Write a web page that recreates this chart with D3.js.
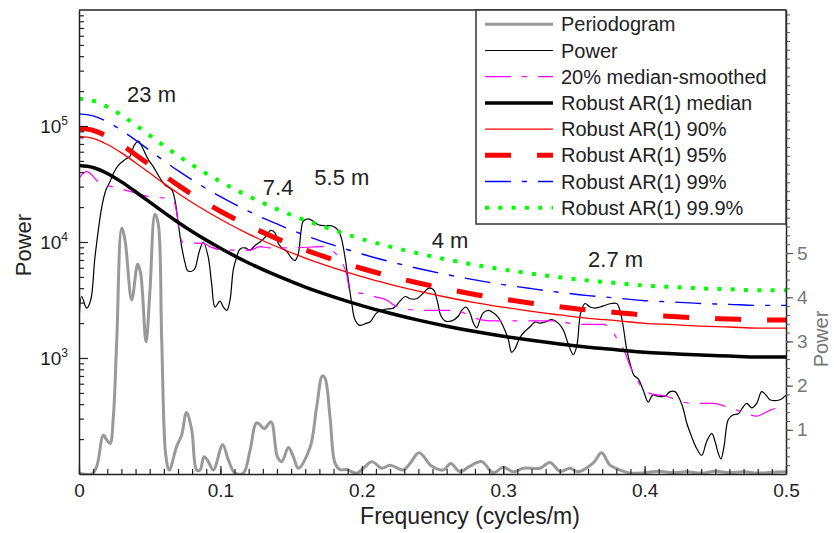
<!DOCTYPE html>
<html>
<head>
<meta charset="utf-8">
<script src="https://cdn.jsdelivr.net/npm/d3@7/dist/d3.min.js"></script>
<style>
  body { margin: 0; background: #fff; }
  svg { display: block; }
  text { font-family: "Liberation Sans", Arial, Helvetica, sans-serif; }
</style>
</head>
<body>
<svg id="chart" width="834" height="533"></svg>
<script>
// ---- data ---------------------------------------------------------------
// Robust AR(1) red-noise fits, sampled in frequency (cycles/m)
const arFreq = [0, 0.01, 0.02, 0.03, 0.04, 0.05, 0.06, 0.07, 0.08, 0.10, 0.12, 0.14, 0.16,
  0.18, 0.20, 0.22, 0.24, 0.26, 0.28, 0.30, 0.32, 0.34, 0.36, 0.38, 0.40, 0.42, 0.44, 0.46, 0.48, 0.50];
const arMedian = [45700, 43900, 39000, 33000, 27100, 22100, 18000, 14800, 12300, 8830, 6590, 5120, 4090,
  3370, 2830, 2430, 2120, 1880, 1690, 1540, 1420, 1320, 1240, 1180, 1120, 1090, 1060, 1040, 1020, 1020];
const ar90 = [81300, 78100, 69300, 58700, 48200, 39300, 32000, 26300, 21900, 15700, 11700, 9100, 7270,
  5990, 5030, 4320, 3770, 3340, 3000, 2740, 2520, 2350, 2200, 2100, 1990, 1940, 1880, 1850, 1810, 1810];
const ar95 = [95500, 91700, 81500, 68900, 56600, 46200, 37600, 30900, 25700, 18400, 13800, 10700, 8540,
  7040, 5910, 5080, 4430, 3930, 3530, 3220, 2970, 2760, 2590, 2470, 2340, 2280, 2210, 2170, 2130, 2130];
const ar99 = [127300, 122300, 108700, 91900, 75500, 61600, 50100, 41200, 34300, 24600, 18400, 14300, 11400,
  9390, 7880, 6770, 5910, 5240, 4710, 4290, 3960, 3680, 3450, 3290, 3120, 3040, 2950, 2900, 2840, 2840];
const ar999 = [171700, 165000, 146600, 124000, 101800, 83100, 67600, 55600, 46200, 33200, 24800, 19200, 15400,
  12700, 10600, 9130, 7970, 7070, 6350, 5790, 5340, 4960, 4660, 4430, 4210, 4100, 3980, 3910, 3830, 3830];

// Multitaper power spectrum
const powerFreq = [0, 0.0019, 0.0054, 0.0083, 0.0113, 0.0161, 0.0191, 0.0219, 0.0243, 0.0278, 0.0325,
  0.0361, 0.0389, 0.0419, 0.0450, 0.0490, 0.0525, 0.0568, 0.0608, 0.0656, 0.0679, 0.0702, 0.0726,
  0.0750, 0.0771, 0.0813, 0.0851, 0.0879, 0.0914, 0.0938, 0.0962, 0.0997, 0.1021, 0.1045, 0.1068,
  0.1091, 0.1115, 0.1139, 0.1174, 0.1209, 0.1245, 0.1280, 0.1322, 0.1356, 0.1386, 0.1409, 0.1433,
  0.1469, 0.1504, 0.1528, 0.1551, 0.1570, 0.1586, 0.1622, 0.1657, 0.1692, 0.1740, 0.1787, 0.1834,
  0.1858, 0.1881, 0.1905, 0.1929, 0.1952, 0.1987, 0.2035, 0.2058, 0.2105, 0.2164, 0.2223, 0.2270,
  0.2306, 0.2341, 0.2388, 0.2435, 0.2470, 0.2506, 0.2534, 0.2558, 0.2588, 0.2636, 0.2682, 0.2706,
  0.2737, 0.2765, 0.2789, 0.2813, 0.2836, 0.2859, 0.2895, 0.2930, 0.2965, 0.3001, 0.3036, 0.3060,
  0.3083, 0.3119, 0.3154, 0.3190, 0.3225, 0.3260, 0.3296, 0.3343, 0.3390, 0.3425, 0.3460, 0.3496,
  0.3520, 0.3548, 0.3579, 0.3614, 0.3649, 0.3684, 0.3732, 0.3767, 0.3803, 0.3826, 0.3849, 0.3873,
  0.3902, 0.3925, 0.3955, 0.3991, 0.4026, 0.4057, 0.4097, 0.4144, 0.4180, 0.4215, 0.4238, 0.4269,
  0.4298, 0.4333, 0.4368, 0.4404, 0.4439, 0.4475, 0.4498, 0.4521, 0.4540, 0.4562, 0.4592, 0.4627,
  0.4663, 0.4698, 0.4722, 0.4757, 0.4793, 0.4828, 0.4859, 0.4887, 0.4958, 0.5000];
const powerValues = [1860, 3390, 2690, 3160, 7410, 20000, 28200, 33100, 38900, 45700, 51300,
  55000, 67600, 74100, 64600, 51300, 44700, 36300, 30900, 28200, 22900, 14500, 9120,
  6610, 5620, 5750, 8320, 10000, 7410, 4370, 2750, 3090, 2750, 2570, 3160,
  5750, 7410, 8710, 8910, 8510, 9330, 10000, 11200, 12600, 12000, 9770, 8910,
  8320, 7240, 6920, 7940, 12300, 15100, 15800, 15100, 14100, 13800, 13800, 12600,
  10500, 7410, 4680, 2950, 2140, 1910, 2000, 2040, 2450, 2630, 2690, 3090,
  3390, 3240, 3240, 3630, 3980, 3890, 3090, 2340, 2090, 2090, 2290, 2570,
  2750, 2450, 2000, 1820, 2140, 2450, 2570, 2450, 2240, 1860, 1450, 1120,
  1200, 1510, 1700, 1860, 2040, 2000, 2040, 2140, 2000, 1740, 1320, 1070,
  1260, 2450, 2950, 2750, 2690, 2750, 2880, 2950, 2950, 2570, 1860, 1200,
  851, 708, 661, 525, 417, 479, 468, 468, 513, 513, 468, 380,
  275, 209, 166, 145, 191, 224, 191, 151, 135, 174, 295, 324,
  331, 380, 407, 372, 407, 513, 479, 437, 437, 479];

// 20% running-median smoothed spectrum
const smoothFreq = [0, 0.0054, 0.0090, 0.0125, 0.0196, 0.0290, 0.0408, 0.0502, 0.0596, 0.0667,
  0.0691, 0.0714, 0.0743, 0.0877, 0.0926, 0.1018, 0.1139, 0.1210, 0.1280, 0.1351, 0.1492, 0.1726,
  0.1798, 0.1846, 0.1893, 0.1917, 0.1987, 0.2081, 0.2176, 0.2223, 0.2318, 0.2433, 0.2624, 0.2694,
  0.2789, 0.2836, 0.2928, 0.3352, 0.3543, 0.3706, 0.3755, 0.3803, 0.3861, 0.3897, 0.3932, 0.3979,
  0.4050, 0.4156, 0.4215, 0.4342, 0.4484, 0.4581, 0.4675, 0.4793, 0.4839, 0.4887, 0.4946];
const smoothValues = [35500, 40700, 38000, 33900, 30900, 28800, 26300, 24500, 24000, 22900,
  17800, 11200, 9770, 9770, 9120, 8510, 8510, 8510, 9120, 8910, 8910, 9120,
  8320, 7080, 5250, 3720, 3630, 3390, 3160, 2880, 2630, 2570, 2570, 2510,
  2240, 2140, 2090, 2090, 1950, 1950, 1820, 1480, 1120, 851, 708, 562,
  490, 468, 437, 407, 407, 380, 347, 316, 331, 355, 372];

// Periodogram (right axis, linear units)
const periodFreq = [0, 0.009, 0.0125, 0.0172, 0.0196, 0.022, 0.0243, 0.0267, 0.0302, 0.0325, 0.0373,
  0.0415, 0.0436, 0.0474, 0.0502, 0.0537, 0.056, 0.0585, 0.0615, 0.0639, 0.069, 0.0726, 0.076, 0.0797,
  0.0832, 0.0856, 0.0884, 0.0908, 0.095, 0.1016, 0.1056, 0.1103, 0.1162, 0.121, 0.1257, 0.1311, 0.1358,
  0.1403, 0.1434, 0.1481, 0.1516, 0.1551, 0.1634, 0.1681, 0.1721, 0.174, 0.1775, 0.1811, 0.1846, 0.1893,
  0.1964, 0.2011, 0.207, 0.2141, 0.22, 0.2294, 0.2341, 0.2405, 0.2494, 0.2576, 0.2629, 0.2694, 0.2765,
  0.2848, 0.293, 0.3001, 0.3072, 0.3142, 0.326, 0.3331, 0.3402, 0.3472, 0.3531, 0.3637, 0.3696, 0.3755,
  0.3826, 0.3897, 0.40, 0.41, 0.42, 0.43, 0.44, 0.45, 0.46, 0.47, 0.48, 0.49, 0.50];
const periodValues = [0.02, 0, 0.17, 0.88, 0.77, 0.69, 1.3, 3.03, 5.56, 5.3, 3.94,
  4.75, 4.54, 2.99, 4.16, 5.88, 5.67, 3.03, 0.39, 0.09, 0.62, 0.88, 1.39, 1.0,
  0.09, 0.09, 0.39, 0.32, 0.09, 0.66, 0.32, 0.02, 0.02, 0.54, 1.16, 1.03, 1.18,
  0.39, 0.28, 0.6, 0.39, 0.13, 0.6, 1.52, 2.22, 2.17, 1.3, 0.24, 0.1, 0.1,
  0.02, 0.13, 0.28, 0.13, 0.2, 0.09, 0.24, 0.48, 0.18, 0.09, 0.24, 0.05, 0.18,
  0.28, 0.03, 0.15, 0.05, 0.13, 0.13, 0.26, 0.06, 0.13, 0.05, 0.25, 0.48, 0.2,
  0.09, 0.02, 0.03, 0.06, 0.03, 0.05, 0.02, 0.06, 0.03, 0.05, 0.02, 0.04, 0.05];

// Axis ticks and labels
const xTickValues = [0, 0.1, 0.2, 0.3, 0.4, 0.5];
const yTickExponents = [3, 4, 5];
const rightTickValues = [1, 2, 3, 4, 5];

// Period annotations (text, frequency, power at baseline)
const peakText = ["23 m", "7.4", "5.5 m", "4 m", "2.7 m"];
const peakFreq = [0.034, 0.130, 0.1664, 0.2494, 0.360];
const peakPower = [161000, 25400, 31000, 8870, 6080];

const legendLabels = ["Periodogram", "Power", "20% median-smoothed", "Robust AR(1) median",
  "Robust AR(1) 90%", "Robust AR(1) 95%", "Robust AR(1) 99%", "Robust AR(1) 99.9%"];

// ---- layout -------------------------------------------------------------
const W = 834, H = 533;
const plot = { left: 79, right: 786, top: 10, bottom: 474 };

const svg = d3.select("#chart");
svg.append("rect").attr("width", W).attr("height", H).attr("fill", "#fff");

const x = d3.scaleLinear().domain([0, 0.5]).range([plot.left, plot.right]);
const y = d3.scaleLog().domain([100, 1e6]).range([plot.bottom, plot.top]);
const yR = d3.scaleLinear().domain([0, 10.5]).range([plot.bottom, plot.top]);

svg.append("defs").append("clipPath").attr("id", "plotClip")
  .append("rect")
  .attr("x", plot.left).attr("y", plot.top)
  .attr("width", plot.right - plot.left).attr("height", plot.bottom - plot.top);

const g = svg.append("g").attr("clip-path", "url(#plotClip)");

const zip = (fs, vs) => fs.map((f, i) => [f, vs[i]]);

const smoothLogLine = d3.line().x(d => x(d[0])).y(d => y(d[1])).curve(d3.curveMonotoneX);
const wiggleLine = d3.line().x(d => x(d[0])).y(d => y(d[1])).curve(d3.curveCatmullRom.alpha(0.5));
const rightLine = d3.line().x(d => x(d[0])).y(d => yR(d[1])).curve(d3.curveCatmullRom.alpha(0.5));

// series styling, in legend order
const styles = [
  { stroke: "#999999", width: 3, dash: null },
  { stroke: "#000000", width: 1.2, dash: null },
  { stroke: "#ff00ff", width: 1.2, dash: "26,11,5,11" },
  { stroke: "#000000", width: 3.5, dash: null },
  { stroke: "#ff0000", width: 1.3, dash: null },
  { stroke: "#ff0000", width: 5, dash: "26,26" },
  { stroke: "#0000ff", width: 1.4, dash: "26,11,5,11" },
  { stroke: "#00ff00", width: 4, dash: "4,9.3" }
];

const seriesPaths = [
  rightLine(zip(periodFreq, periodValues)),
  wiggleLine(zip(powerFreq, powerValues)),
  smoothLogLine(zip(smoothFreq, smoothValues)),
  smoothLogLine(zip(arFreq, arMedian)),
  smoothLogLine(zip(arFreq, ar90)),
  smoothLogLine(zip(arFreq, ar95)),
  smoothLogLine(zip(arFreq, ar99)),
  smoothLogLine(zip(arFreq, ar999))
];

seriesPaths.forEach((p, i) => {
  const s = styles[i];
  g.append("path")
    .attr("d", p)
    .attr("fill", "none")
    .attr("stroke", s.stroke)
    .attr("stroke-width", s.width)
    .attr("stroke-linejoin", "round")
    .attr("stroke-dasharray", s.dash);
});

// ---- annotations --------------------------------------------------------
svg.append("g").selectAll("text").data(peakText).join("text")
  .attr("x", (d, i) => x(peakFreq[i]))
  .attr("y", (d, i) => y(peakPower[i]))
  .attr("font-size", 22)
  .attr("fill", "#222")
  .text(d => d);

// ---- axes ---------------------------------------------------------------
const axisColor = "#222";

// bottom: minor ticks every 0.01, labelled majors every 0.1
const xMinor = d3.range(0, 51).map(i => i / 100);
svg.append("g").attr("transform", `translate(0,${plot.bottom})`)
  .call(d3.axisBottom(x).tickValues(xMinor).tickSize(-5).tickFormat("").tickSizeOuter(0))
  .call(a => a.select(".domain").attr("stroke", axisColor).attr("stroke-width", 1.5))
  .call(a => a.selectAll(".tick line").attr("stroke", axisColor).attr("stroke-width", 1.2));
svg.append("g").attr("transform", `translate(0,${plot.bottom})`)
  .call(d3.axisBottom(x).tickValues(xTickValues).tickSize(-8).tickPadding(10)
    .tickFormat(d => d === 0 ? "0" : d3.format(".1f")(d)).tickSizeOuter(0))
  .call(a => a.select(".domain").remove())
  .call(a => a.selectAll(".tick line").attr("stroke", axisColor).attr("stroke-width", 1.2))
  .call(a => a.selectAll(".tick text").attr("font-size", 19).attr("fill", axisColor)
    .attr("font-family", "Liberation Sans, Arial, sans-serif"));

// left: log minor ticks, labelled decades
const yMinor = [];
[2, 3, 4, 5].forEach(e => { for (let k = 2; k <= 9; k++) yMinor.push(k * Math.pow(10, e)); });
svg.append("g").attr("transform", `translate(${plot.left},0)`)
  .call(d3.axisLeft(y).tickValues(yMinor).tickSize(-5).tickFormat("").tickSizeOuter(0))
  .call(a => a.select(".domain").attr("stroke", axisColor).attr("stroke-width", 1.5))
  .call(a => a.selectAll(".tick line").attr("stroke", axisColor).attr("stroke-width", 1.2));
const yMajorAxis = svg.append("g").attr("transform", `translate(${plot.left},0)`)
  .call(d3.axisLeft(y).tickValues(yTickExponents.map(e => Math.pow(10, e))).tickSize(-9)
    .tickFormat("").tickSizeOuter(0));
yMajorAxis.select(".domain").remove();
yMajorAxis.selectAll(".tick line").attr("stroke", axisColor).attr("stroke-width", 1.2);
yMajorAxis.selectAll(".tick").each(function (d, i) {
  const t = d3.select(this).append("text")
    .attr("x", -11).attr("y", 6)
    .attr("text-anchor", "end")
    .attr("fill", axisColor)
    .attr("font-size", 19);
  t.append("tspan").text("10");
  t.append("tspan").attr("dy", -8).attr("font-size", 12).text(yTickExponents[i]);
});

// top frame line
svg.append("line")
  .attr("x1", plot.left).attr("x2", plot.right)
  .attr("y1", plot.top).attr("y2", plot.top)
  .attr("stroke", axisColor).attr("stroke-width", 1.5);

// right: linear periodogram axis
const rMinor = d3.range(1, 53).map(i => i / 5);
svg.append("g").attr("transform", `translate(${plot.right},0)`)
  .call(d3.axisRight(yR).tickValues(rMinor).tickSize(4).tickFormat("").tickSizeOuter(0))
  .call(a => a.select(".domain").attr("stroke", axisColor).attr("stroke-width", 1.5))
  .call(a => a.selectAll(".tick line").attr("stroke", "#555").attr("stroke-width", 1));
svg.append("g").attr("transform", `translate(${plot.right},0)`)
  .call(d3.axisRight(yR).tickValues(rightTickValues).tickSize(7).tickPadding(4)
    .tickFormat(d3.format("d")).tickSizeOuter(0))
  .call(a => a.select(".domain").remove())
  .call(a => a.selectAll(".tick line").attr("stroke", "#555").attr("stroke-width", 1.2))
  .call(a => a.selectAll(".tick text").attr("font-size", 19).attr("fill", "#777")
    .attr("font-family", "Liberation Sans, Arial, sans-serif"));

// axis titles
svg.append("text")
  .attr("x", 470).attr("y", 524)
  .attr("text-anchor", "middle")
  .attr("font-size", 23).attr("fill", axisColor)
  .text("Frequency (cycles/m)");
svg.append("text")
  .attr("transform", `translate(31,${(plot.top + plot.bottom) / 2 + 3}) rotate(-90)`)
  .attr("text-anchor", "middle")
  .attr("font-size", 22).attr("fill", axisColor)
  .text("Power");
svg.append("text")
  .attr("transform", `translate(828,339) rotate(-90)`)
  .attr("text-anchor", "middle")
  .attr("font-size", 20).attr("fill", "#777")
  .text("Power");

// ---- legend -------------------------------------------------------------
const legend = svg.append("g");
legend.append("rect")
  .attr("x", 476).attr("y", plot.top)
  .attr("width", plot.right - 476).attr("height", 224 - plot.top)
  .attr("fill", "#fff").attr("stroke", "#333").attr("stroke-width", 1.5);
legendLabels.forEach((lab, i) => {
  const cy = 24.3 + i * 26.2;
  const s = styles[i];
  legend.append("line")
    .attr("x1", 485).attr("x2", 553).attr("y1", cy).attr("y2", cy)
    .attr("stroke", s.stroke).attr("stroke-width", s.width)
    .attr("stroke-dasharray", s.dash);
  legend.append("text")
    .attr("x", 561).attr("y", cy + 7)
    .attr("font-size", 20).attr("fill", "#222")
    .text(lab);
});
</script>
</body>
</html>
